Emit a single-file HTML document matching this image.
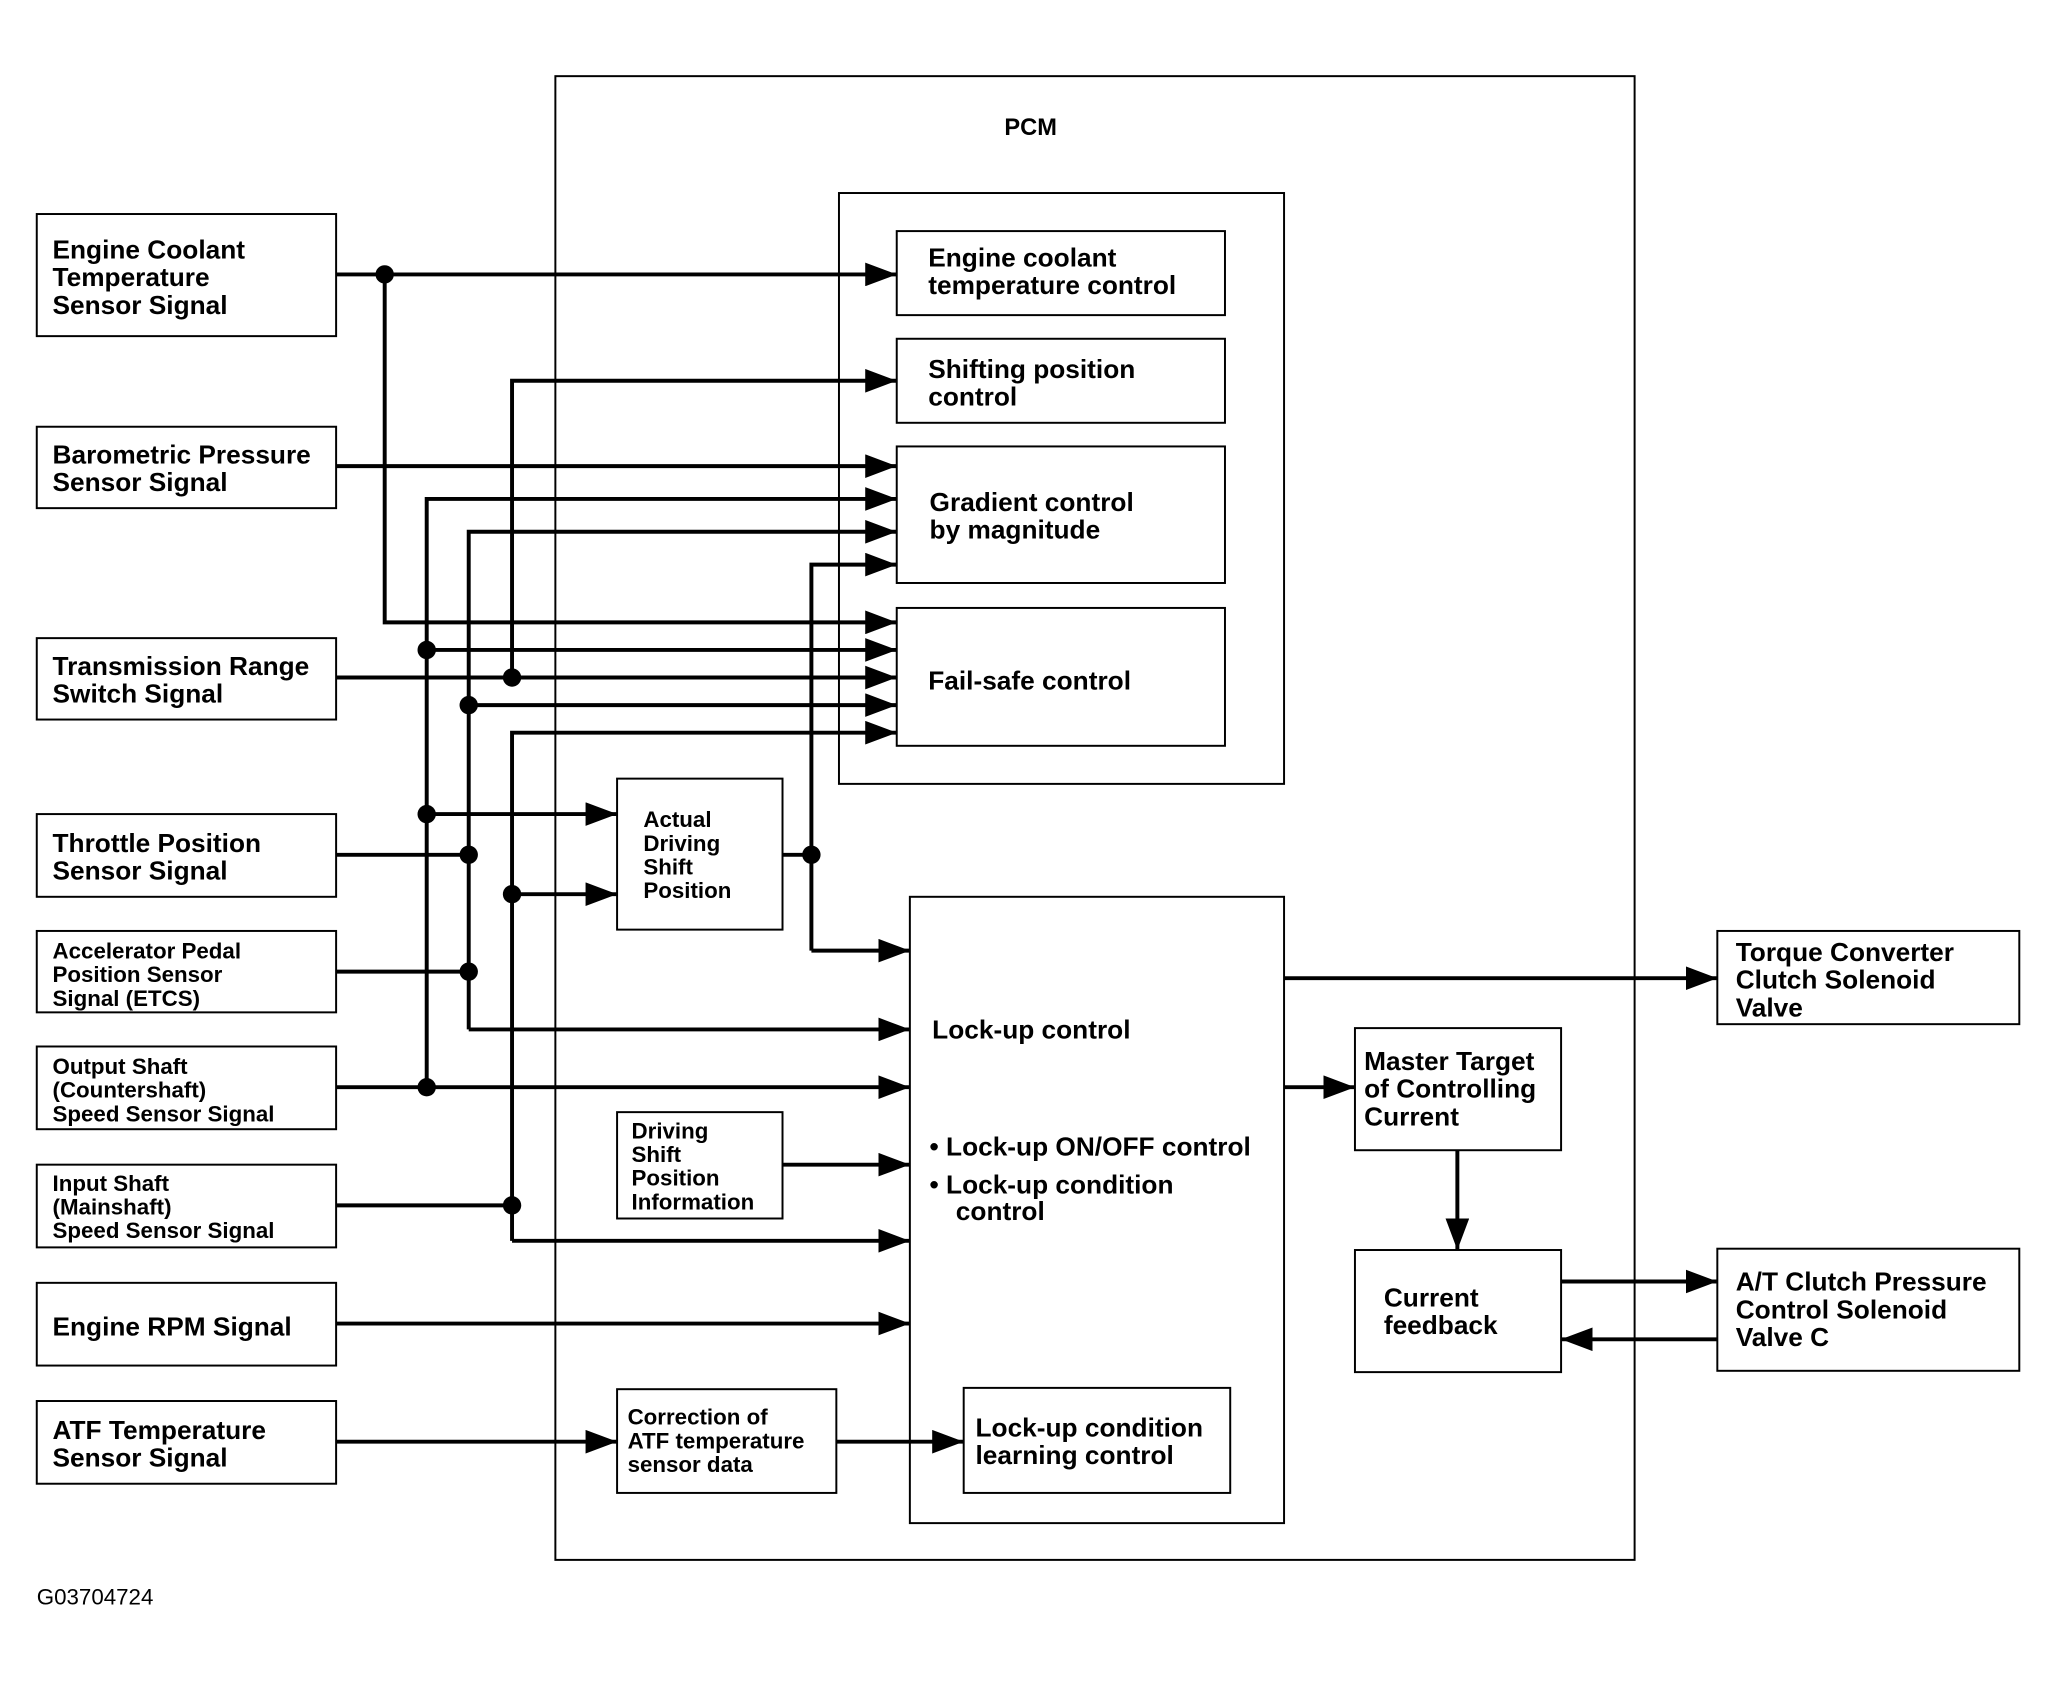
<!DOCTYPE html>
<html><head><meta charset="utf-8"><style>
html,body{margin:0;padding:0;background:#fff;}
svg{display:block;}
text{font-family:"Liberation Sans Narrow","Liberation Sans",sans-serif;font-weight:bold;fill:#000;}
</style></head><body>
<svg width="2060" height="1682" viewBox="0 0 1569 1281" preserveAspectRatio="none" xmlns="http://www.w3.org/2000/svg">
<defs>
<marker id="a" markerWidth="8" markerHeight="6" refX="8" refY="3" orient="auto" markerUnits="strokeWidth"><path d="M0,0 L8,3 L0,6 z" fill="#000"/></marker>
</defs>
<g fill="none" stroke="#000" stroke-width="1.5">
<rect x="423" y="58" width="822" height="1130"/>
<rect x="639" y="147" width="339" height="450"/>
<rect x="683" y="176" width="250" height="64"/>
<rect x="683" y="258" width="250" height="64"/>
<rect x="683" y="340" width="250" height="104"/>
<rect x="683" y="463" width="250" height="105"/>
<rect x="693" y="683" width="285" height="477"/>
<rect x="1032" y="783" width="157" height="93"/>
<rect x="1032" y="952" width="157" height="93"/>
<rect x="1308" y="709" width="230" height="71"/>
<rect x="1308" y="951" width="230" height="93"/>
<rect x="470" y="593" width="126" height="115"/>
<rect x="470" y="847" width="126" height="81"/>
<rect x="470" y="1058" width="167" height="79"/>
<rect x="734" y="1057" width="203" height="80"/>
<rect x="28" y="163" width="228" height="93"/>
<rect x="28" y="325" width="228" height="62"/>
<rect x="28" y="486" width="228" height="62"/>
<rect x="28" y="620" width="228" height="63"/>
<rect x="28" y="709" width="228" height="62"/>
<rect x="28" y="797" width="228" height="63"/>
<rect x="28" y="887" width="228" height="63"/>
<rect x="28" y="977" width="228" height="63"/>
<rect x="28" y="1067" width="228" height="63"/>
</g>
<g fill="none" stroke="#000" stroke-width="3">
<path d="M256,209 H683" marker-end="url(#a)"/>
<path d="M293,209 V474 H683" marker-end="url(#a)"/>
<path d="M256,355 H683" marker-end="url(#a)"/>
<path d="M390,516 V290 H683" marker-end="url(#a)"/>
<path d="M256,516 H683" marker-end="url(#a)"/>
<path d="M390,945 V558 H683" marker-end="url(#a)"/>
<path d="M390,681 H470" marker-end="url(#a)"/>
<path d="M390,945 H693" marker-end="url(#a)"/>
<path d="M256,918 H390"/>
<path d="M325,828 V380 H683" marker-end="url(#a)"/>
<path d="M325,495 H683" marker-end="url(#a)"/>
<path d="M325,620 H470" marker-end="url(#a)"/>
<path d="M256,828 H693" marker-end="url(#a)"/>
<path d="M357,784 V405 H683" marker-end="url(#a)"/>
<path d="M357,537 H683" marker-end="url(#a)"/>
<path d="M256,651 H357"/>
<path d="M256,740 H357"/>
<path d="M357,784 H693" marker-end="url(#a)"/>
<path d="M618,724 V430 H683" marker-end="url(#a)"/>
<path d="M596,651 H618"/>
<path d="M618,724 H693" marker-end="url(#a)"/>
<path d="M596,887 H693" marker-end="url(#a)"/>
<path d="M256,1008 H693" marker-end="url(#a)"/>
<path d="M256,1098 H470" marker-end="url(#a)"/>
<path d="M637,1098 H734" marker-end="url(#a)"/>
<path d="M978,745 H1308" marker-end="url(#a)"/>
<path d="M978,828 H1032" marker-end="url(#a)"/>
<path d="M1110,876 V952" marker-end="url(#a)"/>
<path d="M1189,976 H1308" marker-end="url(#a)"/>
<path d="M1308,1020 H1189" marker-end="url(#a)"/>
</g>
<g fill="#000">
<circle cx="293" cy="209" r="7"/>
<circle cx="325" cy="495" r="7"/>
<circle cx="390" cy="516" r="7"/>
<circle cx="357" cy="537" r="7"/>
<circle cx="325" cy="620" r="7"/>
<circle cx="357" cy="651" r="7"/>
<circle cx="618" cy="651" r="7"/>
<circle cx="390" cy="681" r="7"/>
<circle cx="357" cy="740" r="7"/>
<circle cx="325" cy="828" r="7"/>
<circle cx="390" cy="918" r="7"/>
</g>
<g font-size="20">
<text x="765" y="103" font-size="18">PCM</text>
<text x="707" y="203">Engine coolant</text><text x="707" y="224">temperature control</text>
<text x="707" y="288">Shifting position</text><text x="707" y="309">control</text>
<text x="708" y="389">Gradient control</text><text x="708" y="410">by magnitude</text>
<text x="707" y="525">Fail-safe control</text>
<text x="710" y="791">Lock-up control</text>
<text x="708" y="880">• Lock-up ON/OFF control</text>
<text x="708" y="909">• Lock-up condition</text>
<text x="728" y="929">control</text>
<text x="743" y="1094">Lock-up condition</text><text x="743" y="1115">learning control</text>
<text x="1039" y="815">Master Target</text><text x="1039" y="836">of Controlling</text><text x="1039" y="857">Current</text>
<text x="1054" y="995">Current</text><text x="1054" y="1016">feedback</text>
<text x="1322" y="732">Torque Converter</text><text x="1322" y="753">Clutch Solenoid</text><text x="1322" y="774">Valve</text>
<text x="1322" y="983">A/T Clutch Pressure</text><text x="1322" y="1004">Control Solenoid</text><text x="1322" y="1025">Valve C</text>
<text x="40" y="197">Engine Coolant</text><text x="40" y="218">Temperature</text><text x="40" y="239">Sensor Signal</text>
<text x="40" y="353">Barometric Pressure</text><text x="40" y="374">Sensor Signal</text>
<text x="40" y="514">Transmission Range</text><text x="40" y="535">Switch Signal</text>
<text x="40" y="649">Throttle Position</text><text x="40" y="670">Sensor Signal</text>
<text x="40" y="1017">Engine RPM Signal</text>
<text x="40" y="1096">ATF Temperature</text><text x="40" y="1117">Sensor Signal</text>
</g>
<g font-size="17">
<text x="40" y="730">Accelerator Pedal</text><text x="40" y="748">Position Sensor</text><text x="40" y="766">Signal (ETCS)</text>
<text x="40" y="818">Output Shaft</text><text x="40" y="836">(Countershaft)</text><text x="40" y="854">Speed Sensor Signal</text>
<text x="40" y="907">Input Shaft</text><text x="40" y="925">(Mainshaft)</text><text x="40" y="943">Speed Sensor Signal</text>
<text x="490" y="630">Actual</text><text x="490" y="648">Driving</text><text x="490" y="666">Shift</text><text x="490" y="684">Position</text>
<text x="481" y="867">Driving</text><text x="481" y="885">Shift</text><text x="481" y="903">Position</text><text x="481" y="921">Information</text>
<text x="478" y="1085">Correction of</text><text x="478" y="1103">ATF temperature</text><text x="478" y="1121">sensor data</text>
<text x="28" y="1222" style="font-weight:normal">G03704724</text>
</g>
</svg>
</body></html>
